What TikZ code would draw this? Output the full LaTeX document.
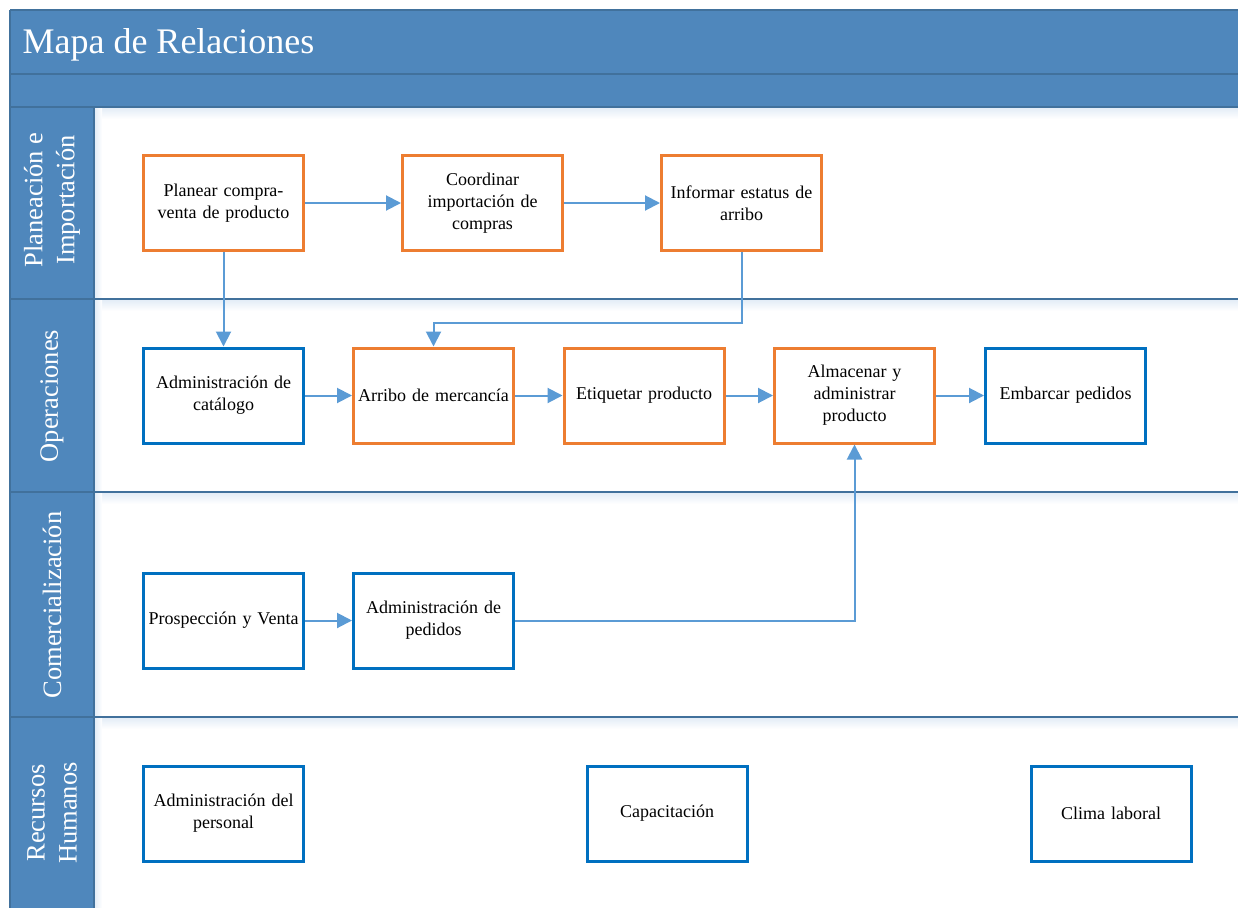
\documentclass[tikz,border=0pt]{standalone}
\usepackage{fontspec}
\setmainfont{Liberation Serif}
\usetikzlibrary{arrows.meta}
\definecolor{band}{RGB}{79,135,188}
\definecolor{bandline}{RGB}{65,113,156}
\definecolor{orng}{RGB}{237,125,49}
\definecolor{bluebox}{RGB}{0,112,192}
\definecolor{arrowc}{RGB}{91,155,213}
\definecolor{shadec}{RGB}{228,237,247}
\tikzset{
  procbox/.style={draw, line width=3pt, fill=white, minimum width=160pt, minimum height=95pt,
    inner sep=2pt, text width=156pt, align=center,
    font=\fontsize{18}{22}\selectfont},
  orbox/.style={procbox, draw=orng},
  blbox/.style={procbox, draw=bluebox},
  flow/.style={draw=arrowc, line width=2pt, -{Triangle[length=15pt,width=15pt]}},
  lanelabel/.style={text=white, rotate=90, align=center, font=\fontsize{26.5}{32}\selectfont},
  laneline/.style={draw=bandline, line width=2pt}
}
\begin{document}
\begin{tikzpicture}[x=1pt,y=-1pt]
\useasboundingbox (0,0) rectangle (1238,907);
\fill[white] (0,0) rectangle (1238,907);
% header bands
\fill[band] (10,10) rectangle (1240,107);
\fill[band] (10,107) rectangle (94,910);
% soft shades under lane lines
\foreach \yy in {107,299,492,717}{
  \shade[top color=shadec, bottom color=white] (94,\yy+1) rectangle (1238,\yy+12);
}
\shade[left color=shadec, right color=white] (95,108) rectangle (102,907);
\draw[laneline] (10,10) -- (1240,10);
\draw[laneline] (10,74) -- (1240,74);
\draw[laneline] (10,107) -- (1240,107);
\draw[laneline] (10,10) -- (10,910);
\draw[laneline] (94,107) -- (94,910);
\foreach \yy in {299,492,717}{
  \draw[laneline] (10,\yy) -- (1240,\yy);
}
% title and lane labels
\node[text=white, anchor=base west, font=\fontsize{36}{40}\selectfont] (title) at (19,54) {Mapa de Relaciones};
\node[lanelabel] (l1) at (52,200) {Planeación e\\Importación};
\node[lanelabel] (l2) at (52,396) {Operaciones};
\node[lanelabel] (l3) at (52,605) {Comercialización};
\node[lanelabel] (l4) at (52,813) {Recursos\\Humanos};
% boxes
\node[orbox] (plan) at (223.5,203) {Planear compra-\\venta de producto};
\node[orbox] (coord) at (482.5,203) {Coordinar\\importación de\\compras};
\node[orbox] (inf) at (741.5,203) {Informar estatus de\\arribo};
\node[blbox] (cat) at (223.5,395.5) {Administración de\\catálogo};
\node[orbox] (arr) at (433.5,395.5) {Arribo de mercancía};
\node[orbox] (eti) at (644,395.5) {Etiquetar producto};
\node[orbox] (alm) at (854.5,395.5) {Almacenar y\\administrar\\producto};
\node[blbox] (emb) at (1065.5,395.5) {Embarcar pedidos};
\node[blbox] (pro) at (223.5,620.5) {Prospección y Venta};
\node[blbox] (ped) at (433.5,620.5) {Administración de\\pedidos};
\node[blbox] (per) at (223.5,813.5) {Administración del\\personal};
\node[blbox] (cap) at (667,813.5) {Capacitación};
\node[blbox] (cli) at (1111,813.5) {Clima laboral};
% connectors
\draw[flow] (plan) -- (coord);
\draw[flow] (coord) -- (inf);
\draw[flow] (plan) -- (cat);
\coordinate (k1) at (741.5,323);
\draw[flow] (inf.south) -- (k1) -| (arr.north);
\draw[flow] (cat) -- (arr);
\draw[flow] (arr) -- (eti);
\draw[flow] (eti) -- (alm);
\draw[flow] (alm) -- (emb);
\draw[flow] (pro) -- (ped);
\draw[flow] (ped.east) -| (alm.south);
\end{tikzpicture}
\end{document}
